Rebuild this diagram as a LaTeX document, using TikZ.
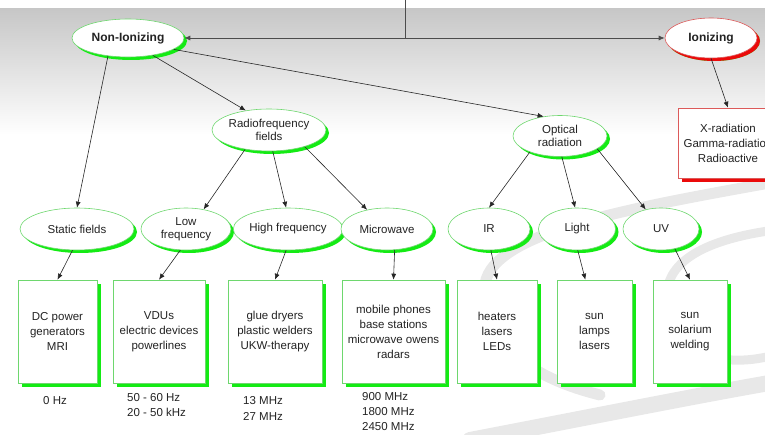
\documentclass[tikz,border=0pt]{standalone}
\usepackage{fontspec}
\setmainfont{Liberation Sans}
\usetikzlibrary{shapes.geometric,shadows,arrows.meta}
\definecolor{gshadow}{RGB}{20,235,20}
\definecolor{gline}{RGB}{110,215,110}
\definecolor{rshadow}{RGB}{235,10,10}
\definecolor{rline}{RGB}{220,90,90}
\definecolor{txt}{RGB}{35,35,35}
\tikzset{
  ell/.style={ellipse, draw=gline, line width=0.6pt, fill=white, inner sep=0pt,
    font=\fontsize{11.5}{13}\selectfont, text=txt, align=center,
    general shadow={fill=gshadow, shadow xshift=3pt, shadow yshift=-3pt}},
  redell/.style={ell, draw=rline, general shadow={fill=rshadow, shadow xshift=3pt, shadow yshift=-3pt}},
  bx/.style={rectangle, draw=gline, line width=0.6pt, fill=white, inner sep=0pt,
    minimum height=103pt, font=\fontsize{11.5}{15}\selectfont, text=txt, align=center,
    general shadow={fill=gshadow, shadow xshift=4pt, shadow yshift=-4pt}},
  redbx/.style={bx, draw=rline, minimum height=70pt, general shadow={fill=rshadow, shadow xshift=4pt, shadow yshift=-4pt}},
  freq/.style={font=\fontsize{11.5}{15}\selectfont, text=txt, align=left, anchor=north west, inner sep=0pt},
  arr/.style={line width=0.6pt, black!85, -{Latex[length=6pt,width=5pt]}},
  ln/.style={line width=0.8pt, black!70},
  swoosh/.style={black!9, line cap=round}
}
\begin{document}
\begin{tikzpicture}[x=1pt,y=-1pt]
\useasboundingbox (0,0) rectangle (765,435);
\begin{scope}
\clip (0,0) rectangle (765,435);
\shade[top color=black!22, bottom color=white] (0,9) rectangle (765,135);
% background swooshes
\draw[swoosh, line width=11pt] (775,182) .. controls (620,210) and (475,235) .. (485,295) .. controls (492,340) and (520,375) .. (600,395);
\draw[swoosh, line width=9pt] (775,230) .. controls (700,240) and (660,265) .. (668,305) .. controls (675,345) and (710,372) .. (775,355);
\draw[swoosh, line width=16pt] (470,440) .. controls (600,415) and (700,395) .. (775,382);

% ellipses
\node[ell, font=\bfseries\fontsize{12}{14}\selectfont, minimum width=112pt, minimum height=38pt] (nonion) at (128,38) {Non-Ionizing};
\node[redell, font=\bfseries\fontsize{12}{14}\selectfont, minimum width=92pt, minimum height=40pt] (ion) at (711,38) {Ionizing};
\node[ell, minimum width=114pt, minimum height=42pt] (rf) at (269,130) {Radiofrequency\\fields};
\node[ell, minimum width=94pt, minimum height=41pt] (opt) at (560,136) {Optical\\radiation};

\node[ell, minimum width=114pt, minimum height=42pt] (static) at (77,229) {Static fields};
\node[ell, minimum width=90pt, minimum height=42pt] (low) at (186,229) {Low\\frequency};
\node[ell, minimum width=99pt, minimum height=42pt] (high) at (288,229) {High frequency};
\node[ell, minimum width=92pt, minimum height=42pt] (micro) at (387,229) {Microwave};
\node[ell, minimum width=82pt, minimum height=42pt] (ir) at (489,229) {IR};
\node[ell, minimum width=77pt, minimum height=42pt] (light) at (577,229) {Light};
\node[ell, minimum width=76pt, minimum height=42pt] (uv) at (661,229) {UV};

% boxes
\node[bx, minimum width=79pt] (b1) at (57.5,331.5) {DC power\\generators\\MRI};
\node[bx, minimum width=92pt] (b2) at (159,331.5) {VDUs\\electric devices\\powerlines};
\node[bx, minimum width=94pt] (b3) at (275,331.5) {glue dryers\\plastic welders\\UKW-therapy};
\node[bx, minimum width=103pt] (b4) at (393.5,331.5) {mobile phones\\base stations\\microwave owens\\radars};
\node[bx, minimum width=80pt] (b5) at (497,331.5) {heaters\\lasers\\LEDs};
\node[bx, minimum width=75pt] (b6) at (594.5,331.5) {sun\\lamps\\lasers};
\node[bx, minimum width=74pt] (b7) at (690,331.5) {sun\\solarium\\welding};
\node[redbx, minimum width=100pt] (xb) at (728,143) {X-radiation\\Gamma-radiation\\Radioactive};

% frequency labels
\node[freq] (f1) at (43,396) {0 Hz};
\node[freq] (f2) at (127,393) {50 - 60 Hz\\20 - 50 kHz};
\node[freq, font=\fontsize{11.5}{16}\selectfont] (f3) at (243,396) {13 MHz\\27 MHz};
\node[freq] (f4) at (362,392) {900 MHz\\1800 MHz\\2450 MHz};

% top connector
\coordinate (top) at (405,0);
\coordinate (junc) at (405,38);
\draw[ln] (top) -- (junc);
\draw[arr, line width=0.8pt, black!70] (junc) -- (nonion.east);
\draw[arr, line width=0.8pt, black!70] (junc) -- (ion.west);

% connectors
\draw[arr] (nonion.222) -- (static.north);
\draw[arr] (nonion.325) -- (rf.140);
\draw[arr] (nonion.346) -- (opt.130);
\draw[arr] (ion.south) -- (xb.north);

\draw[arr] (rf.219) -- (low.48);
\draw[arr] (rf.280) -- (high.95);
\draw[arr] (rf.335) -- (micro.136);

\draw[arr] (opt.208) -- (ir.north);
\draw[arr] (opt.275) -- (light.95);
\draw[arr] (opt.341) -- (uv.128);

\draw[arr] (static.258) -- (b1.north);
\draw[arr] (low.255) -- (b2.north);
\draw[arr] (high.265) -- (b3.north);
\draw[arr] (micro.290) -- (b4.north);
\draw[arr] (ir.275) -- (b5.north);
\draw[arr] (light.272) -- (b6.100);
\draw[arr] (uv.305) -- (b7.north);
\end{scope}
\end{tikzpicture}
\end{document}
